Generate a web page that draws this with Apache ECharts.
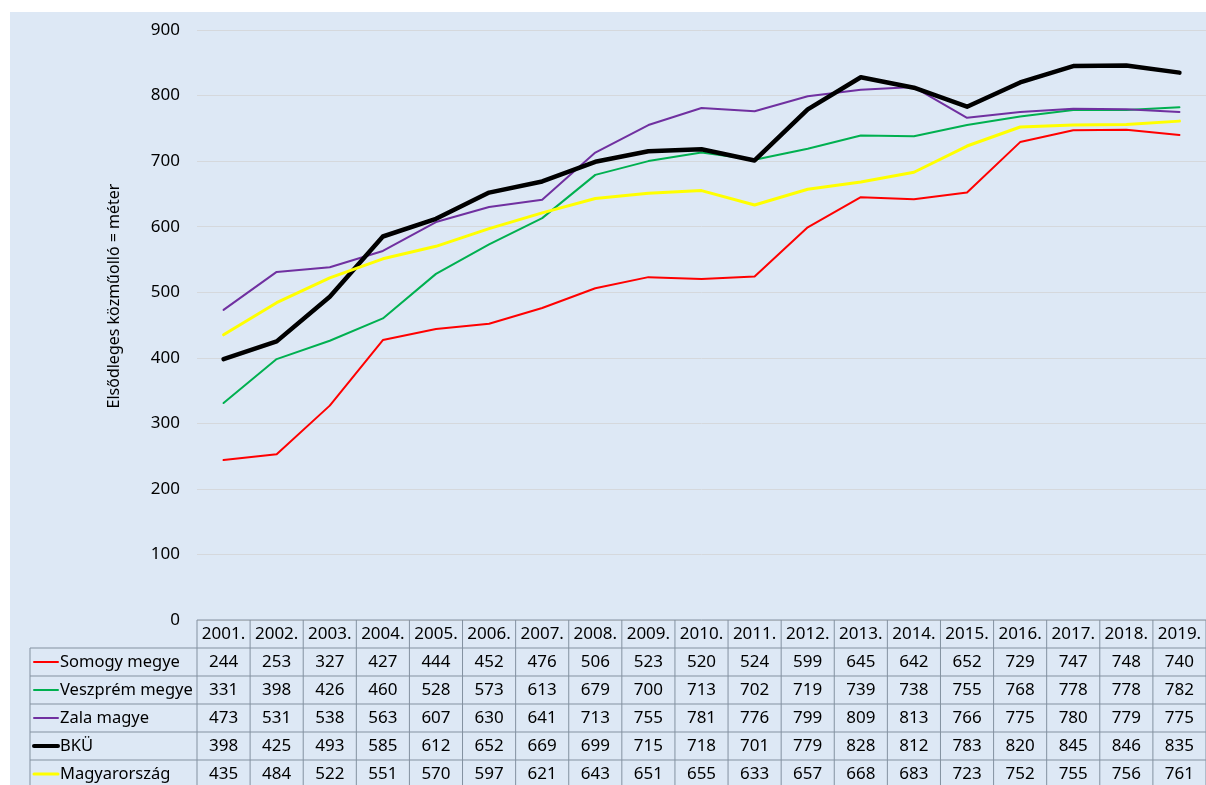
<!DOCTYPE html>
<html><head><meta charset="utf-8">
<script src="https://cdn.jsdelivr.net/npm/echarts@6/dist/echarts.min.js"></script>
<style>
html,body{margin:0;padding:0;background:#fff;}
#bg{position:absolute;left:10px;top:12px;width:1196px;height:773px;background:#dde8f5;}
#c{position:absolute;left:0;top:0;width:1206px;height:785px;}
</style></head>
<body><div id="bg"></div><div id="c"></div>
<script>
const years = ['2001.','2002.','2003.','2004.','2005.','2006.','2007.','2008.','2009.','2010.','2011.','2012.','2013.','2014.','2015.','2016.','2017.','2018.','2019.'];
const somogy = [244,253,327,427,444,452,476,506,523,520,524,599,645,642,652,729,747,748,740];
const veszprem = [331,398,426,460,528,573,613,679,700,713,702,719,739,738,755,768,778,778,782];
const zala = [473,531,538,563,607,630,641,713,755,781,776,799,809,813,766,775,780,779,775];
const bku = [398,425,493,585,612,652,669,699,715,718,701,779,828,812,783,820,845,846,835];
const magyar = [435,484,522,551,570,597,621,643,651,655,633,657,668,683,723,752,755,756,761];
const seriesNames = ['Somogy megye','Veszprém megye','Zala magye','BKÜ','Magyarország'];
const seriesData = [somogy, veszprem, zala, bku, magyar];
const colors = ['#ff0000','#00b050','#7030a0','#000000','#ffff00'];
const widths = [2, 2, 2, 4.5, 3];
const keyWidths = [2, 2, 2, 4, 3];
const yTicks = [0,100,200,300,400,500,600,700,800,900];

const FONT = 'Noto Sans';
const chart = echarts.init(document.getElementById('c'), null, {renderer:'canvas'});
const gridTop = 30, gridBottom = 165, gridLeft = 197;
chart.setOption({
  animation:false,
  backgroundColor:'transparent',
  grid:{left:gridLeft, right:0, top:gridTop, bottom:gridBottom, containLabel:false},
  xAxis:{type:'category', data:years, boundaryGap:true,
    axisLine:{show:false}, axisTick:{show:false}, axisLabel:{show:false}},
  yAxis:{type:'value', min:yTicks[0], max:yTicks[yTicks.length-1], interval:100,
    name:'Elsődleges közműolló = méter', nameLocation:'middle', nameRotate:90, nameGap:75,
    nameTextStyle:{fontFamily:FONT, fontSize:16, color:'#000', padding:[0,0,0,58]},
    axisLine:{show:false}, axisTick:{show:false},
    axisLabel:{fontFamily:FONT, fontSize:17, color:'#000', margin:17},
    splitLine:{lineStyle:{color:'#d5d8dc', width:1}}},
  series: seriesNames.map((n,i)=>({
    name:n, type:'line', data:seriesData[i], symbol:'none', smooth:false,
    lineStyle:{color:colors[i], width:widths[i], join:'round', cap:'round'},
    itemStyle:{color:colors[i]}, z: 2+i
  }))
});

// build data table under the plot from the same arrays
const n = years.length;
const c0 = chart.convertToPixel({xAxisIndex:0}, 0);
const c1 = chart.convertToPixel({xAxisIndex:0}, 1);
const bw = c1 - c0;
const yZero = chart.convertToPixel({yAxisIndex:0}, 0);
const headerH = 28, rowH = 28;
const tableLeft = 30;
const right = c0 - bw/2 + n*bw;
const border = '#8391a0';
const g = [];
const lineEl = (x1,y1,x2,y2)=>({type:'line', shape:{x1,y1,x2,y2}, style:{stroke:border, lineWidth:1}, silent:true});
const bottomY = yZero + headerH + rowH*seriesNames.length;
g.push(lineEl(c0-bw/2, yZero, right, yZero));
for (let r=0; r<=seriesNames.length; r++) {
  const y = yZero + headerH + r*rowH;
  g.push(lineEl(tableLeft, y, right, y));
}
g.push(lineEl(tableLeft, yZero+headerH, tableLeft, bottomY));
for (let i=0; i<=n; i++) {
  const x = c0 - bw/2 + i*bw;
  g.push(lineEl(x, yZero, x, bottomY));
}
for (let i=0; i<n; i++) {
  const cx = chart.convertToPixel({xAxisIndex:0}, i);
  g.push({type:'text', x:cx, y:yZero+headerH/2, style:{text:years[i], fontFamily:FONT, fontSize:17, fill:'#000', align:'center', verticalAlign:'middle'}, silent:true});
  for (let r=0; r<seriesNames.length; r++) {
    g.push({type:'text', x:cx, y:yZero+headerH+r*rowH+rowH/2, style:{text:String(seriesData[r][i]), fontFamily:FONT, fontSize:17, fill:'#000', align:'center', verticalAlign:'middle'}, silent:true});
  }
}
for (let r=0; r<seriesNames.length; r++) {
  const yc = yZero+headerH+r*rowH+rowH/2;
  g.push({type:'line', shape:{x1:34, y1:yc, x2:58, y2:yc}, style:{stroke:colors[r], lineWidth:keyWidths[r], lineCap:'round'}, silent:true});
  g.push({type:'text', x:60, y:yc, style:{text:seriesNames[r], fontFamily:FONT, fontSize:16.5, fill:'#000', align:'left', verticalAlign:'middle'}, silent:true});
}
chart.setOption({graphic:{elements:g}});
</script>
</body></html>
